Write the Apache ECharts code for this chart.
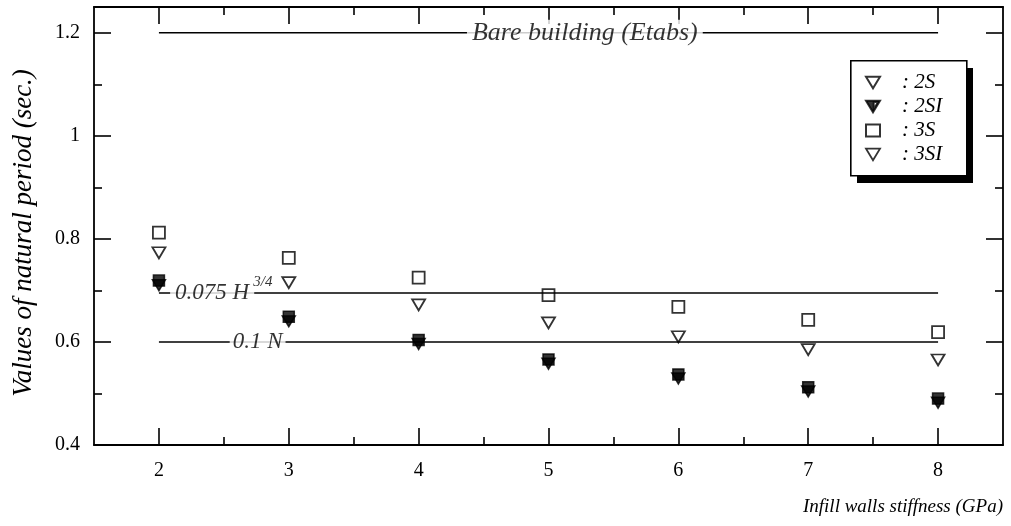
<!DOCTYPE html>
<html>
<head>
<meta charset="utf-8">
<script src="https://cdn.jsdelivr.net/npm/echarts@6/dist/echarts.min.js"></script>
<style>html,body{margin:0;padding:0;background:#fff}#c{width:1011px;height:526px}</style>
</head>
<body>
<div id="c"></div>
<script>
// ---- data ----
const stiffness = [2, 3, 4, 5, 6, 7, 8];
const s2S  = [0.773, 0.715, 0.672, 0.637, 0.610, 0.585, 0.565];
const s2SI = [0.710, 0.640, 0.596, 0.558, 0.529, 0.504, 0.482];
const s3S  = [0.812, 0.763, 0.725, 0.691, 0.668, 0.643, 0.619];
const s3SI = [0.719, 0.649, 0.604, 0.566, 0.537, 0.512, 0.490];
const seriesNames = ['2S', '2SI', '3S', '3SI'];
const bareBuilding = 1.2;
const codeH = 0.695;
const codeN = 0.6;
const refRange = [2, 8];
const xMajorTicks = [2, 3, 4, 5, 6, 7, 8];
const xMinorTicks = [2.5, 3.5, 4.5, 5.5, 6.5, 7.5];
const yMajorTicks = [0.4, 0.6, 0.8, 1.0, 1.2];
const yMinorTicks = [0.5, 0.7, 0.9, 1.1];
const textBare = 'Bare building (Etabs)';
const textH = '0.075 H';
const textSup = '3/4';
const textN = '0.1 N';

const FONT = 'Liberation Serif';
const triDown = 'path://M0,0 L12,0 L6,10 Z';
const triHalf = 'path://M0,0 L12,0 L6,10 Z M6.6,1.2 L6.6,7.6 L10.2,1.2 Z';
const black = '#000';
const gridRect = {left: 94, right: 8, top: 7, bottom: 81};

function xAx(grid, pos, ticks, len, showLine, showLabel) {
  return {
    type: 'value', gridIndex: grid, position: pos, min: 1.5, max: 8.5,
    axisLine: {show: showLine, onZero: false, lineStyle: {color: black, width: 1.8}},
    axisTick: {show: true, inside: true, length: len, customValues: ticks, lineStyle: {color: black, width: 1.6}},
    axisLabel: showLabel ? {show: true, customValues: ticks, color: black, fontFamily: FONT, fontSize: 20, margin: 16} : {show: false},
    splitLine: {show: false}
  };
}
function yAx(grid, pos, ticks, len, showLine, showLabel) {
  return {
    type: 'value', gridIndex: grid, position: pos, min: 0.4, max: 1.25,
    axisLine: {show: showLine, onZero: false, lineStyle: {color: black, width: 1.8}},
    axisTick: {show: true, inside: true, length: len, customValues: ticks, lineStyle: {color: black, width: 1.6}},
    axisLabel: showLabel ? {show: true, customValues: ticks, color: black, fontFamily: FONT, fontSize: 20, margin: 14} : {show: false},
    splitLine: {show: false}
  };
}

const xAxes = [
  xAx(0, 'bottom', xMajorTicks, 17, true, true),
  xAx(0, 'top', xMajorTicks, 17, true, false),
  xAx(1, 'bottom', xMinorTicks, 8, false, false),
  xAx(1, 'top', xMinorTicks, 8, false, false)
];
xAxes[0].name = 'Infill walls stiffness (GPa)';
xAxes[0].nameLocation = 'end';
xAxes[0].nameGap = 0;
xAxes[0].nameTextStyle = {color: black, fontFamily: FONT, fontStyle: 'italic', fontSize: 19, align: 'right', verticalAlign: 'top', padding: [52, 0, 0, 0]};

const yAxes = [
  yAx(0, 'left', yMajorTicks, 17, true, true),
  yAx(0, 'right', yMajorTicks, 17, true, false),
  yAx(1, 'left', yMinorTicks, 8, false, false),
  yAx(1, 'right', yMinorTicks, 8, false, false)
];
yAxes[0].name = 'Values of natural period (sec.)';
yAxes[0].nameLocation = 'middle';
yAxes[0].nameGap = 57;
yAxes[0].nameTextStyle = {color: black, fontFamily: FONT, fontStyle: 'italic', fontSize: 27, padding: [0, 14, 0, 0]};

function pts(vals) { return stiffness.map((x, i) => [x, vals[i]]); }
const openStyle = {color: 'rgba(255,255,255,0)', borderColor: black, borderWidth: 1.8};

function refLine(y) {
  return {
    type: 'line', xAxisIndex: 0, yAxisIndex: 0, data: refRange.map(x => [x, y]),
    symbol: 'none', silent: true, z: 1,
    lineStyle: {color: black, width: 1.5}
  };
}

const labelData = [
  {value: [5.28, bareBuilding], text: textBare, size: 26, pad: [0, 5]},
  {value: [2.41, codeH], text: textH, size: 23, pad: [0, 5]},
  {value: [2.76, codeN], text: textN, size: 23, pad: [0, 3]},
  {value: [2.80, codeH + 0.022], text: textSup, size: 15, pad: [0, 0]}
];

const option = {
  backgroundColor: '#fff',
  animation: false,
  grid: [Object.assign({}, gridRect), Object.assign({}, gridRect)],
  xAxis: xAxes,
  yAxis: yAxes,
  graphic: [
    {type: 'rect', left: 857, top: 68, shape: {width: 116, height: 115}, style: {fill: black}, z: 3, silent: true},
    {type: 'rect', left: 850, top: 60, shape: {width: 116, height: 115}, style: {fill: '#fff', stroke: black, lineWidth: 1.6}, z: 3, silent: true}
  ],
  legend: {
    data: seriesNames.map(n => n === '2SI' ? {name: n, icon: triHalf} : {name: n}),
    orient: 'vertical', left: 852, top: 62,
    padding: [10, 10, 10, 13],
    itemGap: 3, itemWidth: 14, itemHeight: 12,
    z: 10,
    formatter: n => ': ' + n,
    textStyle: {color: black, fontFamily: FONT, fontStyle: 'italic', fontSize: 21, lineHeight: 21, padding: [0, 0, 0, 17]},
    selectedMode: false
  },
  series: [
    refLine(bareBuilding), refLine(codeH), refLine(codeN),
    {name: '2S', type: 'scatter', data: pts(s2S), symbol: triDown, symbolSize: [13, 11], itemStyle: openStyle, z: 2},
    {name: '2SI', type: 'scatter', data: pts(s2SI), symbol: triDown, symbolSize: [13, 11], itemStyle: {color: black, borderColor: black, borderWidth: 1.5}, z: 3},
    {name: '3S', type: 'scatter', data: pts(s3S), symbol: 'rect', symbolSize: 12, itemStyle: openStyle, z: 2},
    {name: '3SI', type: 'scatter', data: pts(s3SI), symbol: 'rect', symbolSize: 11, itemStyle: {color: black, borderColor: black, borderWidth: 1.5}, z: 2},
    {
      type: 'scatter', xAxisIndex: 0, yAxisIndex: 0, silent: true, z: 5,
      symbolSize: 0,
      data: labelData.map(d => ({
        value: d.value,
        label: {show: true, position: 'inside', formatter: d.text, fontSize: d.size, padding: d.pad,
                backgroundColor: d.text === textSup ? 'transparent' : '#fff'}
      })),
      label: {color: black, fontFamily: FONT, fontStyle: 'italic'}
    }
  ]
};
option.legend.data[3] = {name: '3SI', icon: triDown, itemStyle: {color: 'rgba(255,255,255,0)', borderColor: black, borderWidth: 1.8}};

const chart = echarts.init(document.getElementById('c'), null, {renderer: 'canvas'});
chart.setOption(option);
</script>
</body>
</html>
